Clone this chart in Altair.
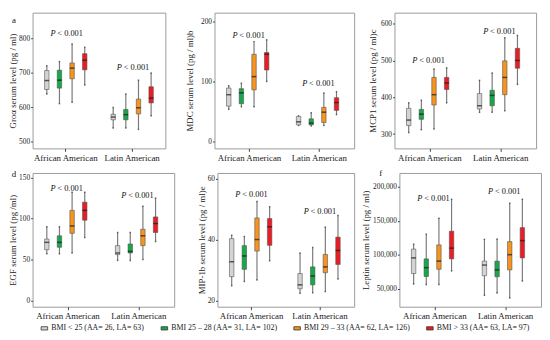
import altair as alt
import pandas as pd

groups = ["African American", "Latin American"]
bmi = ["BMI < 25 (AA= 26, LA= 63)", "BMI 25 – 28 (AA= 31, LA= 102)",
       "BMI 29 – 33 (AA= 62, LA= 126)", "BMI > 33 (AA= 63, LA= 97)"]
colors = ["#d4d4d4", "#16a84a", "#f7941d", "#ec1c24"]

# order: AA (4 BMI classes), then LA (4 BMI classes)
groa_lo = [638, 610, 614, 664, 539, 539, 535, 575]
groa_q1 = [651, 655, 682, 708, 563, 563, 580, 612]
groa_md = [677, 678, 713, 736, 571, 578, 598, 626]
groa_q3 = [706, 707, 728, 755, 579, 593, 623, 659]
groa_hi = [720, 732, 783, 774, 599, 638, 678, 699]

mdc_lo = [54, 58, 58, 100, 27, 26, 27, 45]
mdc_q1 = [59, 63, 86, 119, 28, 28, 32, 52]
mdc_md = [78, 81, 108, 145, 33, 31, 49, 65]
mdc_q3 = [89, 88, 145, 148, 42, 38, 57, 73]
mdc_hi = [93, 97, 166, 169, 43, 48, 81, 83]

mcp_lo = [304, 312, 314, 385, 359, 359, 363, 435]
mcp_q1 = [323, 340, 379, 421, 368, 377, 407, 479]
mcp_md = [338, 354, 407, 439, 377, 405, 454, 500]
mcp_q3 = [370, 367, 454, 454, 410, 419, 499, 533]
mcp_hi = [385, 392, 477, 480, 446, 466, 562, 568]

egf_lo = [57, 57, 58, 77, 49, 49, 50, 72]
egf_q1 = [62, 65, 82, 98, 56, 58, 67, 83]
egf_md = [71, 71, 91, 110, 58, 60, 79, 94]
egf_q3 = [75, 79, 110, 120, 67, 69, 87, 102]
egf_hi = [90, 90, 132, 132, 83, 83, 115, 125]

mip_lo = [24.8, 26.2, 26.7, 33.0, 22.3, 22.5, 22.9, 27.0]
mip_q1 = [27.8, 30.2, 36.2, 38.1, 23.8, 25.1, 29.1, 31.8]
mip_md = [32.7, 34.6, 40.0, 44.2, 25.1, 28.0, 31.0, 36.4]
mip_q3 = [40.3, 38.0, 47.1, 46.9, 28.8, 31.0, 35.1, 40.8]
mip_hi = [41.4, 41.0, 52.5, 50.8, 35.6, 37.4, 44.1, 47.9]

lep_lo = [57200, 56300, 56300, 76400, 40500, 43800, 36600, 61500]
lep_q1 = [72600, 68200, 78800, 94100, 69300, 67800, 77900, 95500]
lep_md = [95500, 81200, 90800, 109900, 85000, 77900, 100300, 121000]
lep_q3 = [108500, 94100, 114700, 134800, 90800, 90800, 119500, 140100]
lep_hi = [115700, 130500, 154000, 181800, 122800, 123300, 176000, 181800]

# p-value label heights (AA, LA)
p_groa = [816, 715]
p_mdc = [177, 97]
p_mcp = [500, 580]
p_egf = [137, 129]
p_mip = [55, 49.5]
p_lep = [183000, 194000]

SERIF = "Liberation Serif"


def make_df(lo, q1, md, q3, hi):
    return pd.DataFrame({
        "group": [groups[i // 4] for i in range(8)],
        "bmi": [bmi[i % 4] for i in range(8)],
        "lo": lo, "q1": q1, "med": md, "q3": q3, "hi": hi,
    })


def panel(df, pv, title, domain, ticks, fmt, ext, tpad, w, h, letter=None, ly=8):
    x = alt.X("group:N", scale=alt.Scale(domain=groups, paddingInner=0, paddingOuter=0),
              axis=alt.Axis(title=None, labelAngle=0, tickSize=3, labelPadding=2,
                            labelFontSize=9, domain=False))
    xo = alt.XOffset("bmi:N", scale=alt.Scale(domain=bmi, paddingInner=0.65, paddingOuter=0.95))
    ysc = alt.Scale(domain=domain, nice=False, zero=False)
    yax = alt.Axis(title=title, values=ticks, format=fmt, minExtent=ext, maxExtent=ext,
                   titlePadding=tpad, tickSize=2, labelPadding=1, labelFontSize=7.5,
                   titleFontSize=9)
    base = alt.Chart(df)
    whisk = base.mark_rule(color="#7a7a7a", strokeWidth=1.2).encode(
        x=x, xOffset=xo, y=alt.Y("lo:Q", scale=ysc, axis=yax), y2="hi:Q")
    caps = base.mark_tick(color="#333", size=1.5, thickness=1.5).encode(
        x=x, xOffset=xo, y="lo:Q")
    caps2 = base.mark_tick(color="#333", size=1.5, thickness=1.5).encode(
        x=x, xOffset=xo, y="hi:Q")
    box = base.mark_bar(stroke="#555", strokeWidth=0.6).encode(
        x=x, xOffset=xo, y="q1:Q", y2="q3:Q",
        color=alt.Color("bmi:N", scale=alt.Scale(domain=bmi, range=colors),
                        legend=alt.Legend(orient="none", legendX=8, legendY=317,
                                          direction="horizontal", title=None,
                                          symbolType="M-1,-0.5H1V0.5H-1Z", symbolSize=44,
                                          symbolStrokeColor="#333", symbolStrokeWidth=0.8,
                                          labelFont=SERIF, labelFontSize=8,
                                          labelColor="#222", labelLimit=300,
                                          columnPadding=15, labelOffset=3)))
    med = base.mark_tick(color="#1a1a1a", size=4.7, thickness=1.5).encode(
        x=x, xOffset=xo, y="med:Q")
    pdf = pd.DataFrame({"group": groups, "bmi": [bmi[2], bmi[2]], "y": pv})
    pt = alt.Chart(pdf)
    p1 = pt.mark_text(text="P", font=SERIF, fontSize=8.5, fontStyle="italic", align="left",
                      baseline="middle", dx=-22, color="#111").encode(x=x, xOffset=xo, y="y:Q")
    p2 = pt.mark_text(text="< 0.001", font=SERIF, fontSize=8.5, align="left",
                      baseline="middle", dx=-15, color="#111").encode(x=x, xOffset=xo, y="y:Q")
    layers = [whisk, caps, caps2, box, med, p1, p2]
    if letter:
        lt = alt.Chart(pd.DataFrame({"t": [letter]})).mark_text(
            font=SERIF, fontSize=9, align="center", baseline="middle", color="#111").encode(
            text="t:N", x=alt.value(-19), y=alt.value(ly))
        layers.append(lt)
    return alt.layer(*layers).properties(width=w, height=h)


pa = panel(make_df(groa_lo, groa_q1, groa_md, groa_q3, groa_hi), p_groa,
           "Groα serum level (pg / ml)", [480, 874], [500, 600, 700, 800], "d",
           13, 2, 135, 138, "a", 8)
pb = panel(make_df(mdc_lo, mdc_q1, mdc_md, mdc_q3, mdc_hi), p_mdc,
           "MDC serum level (pg / ml)b", [-11, 214], [0, 50, 100, 150, 200], "d",
           10, 10, 142, 138)
pc = panel(make_df(mcp_lo, mcp_q1, mcp_md, mcp_q3, mcp_hi), p_mcp,
           "MCP1 serum level (pg / ml)c", [261, 630], [300, 400, 500, 600], "d",
           14, 3, 144, 138)
pd_ = panel(make_df(egf_lo, egf_q1, egf_md, egf_q3, egf_hi), p_egf,
            "EGF serum level (pg /ml)", [-7.5, 155.6], [0, 50, 100, 150], "d",
            13, 2, 144, 136, "d", 1)
pe = panel(make_df(mip_lo, mip_q1, mip_md, mip_q3, mip_hi), p_mip,
           "MIP-1b serum level (pg / ml)e", [17.9, 61.9], [20, 30, 40, 50, 60], "d",
           10, 1, 139, 136)
pf = panel(make_df(lep_lo, lep_q1, lep_md, lep_q3, lep_hi), p_lep,
           "Leptin serum level (pg / ml)", [23700, 220500], [50000, 100000, 150000, 200000], ",d",
           28, 1, 144, 136, "f", 0)

row1 = alt.hconcat(alt.hconcat(pa, pb, spacing=19), pc, spacing=13)
row2 = alt.hconcat(alt.hconcat(pd_, pe, spacing=22), pf, spacing=6)

chart = alt.vconcat(row1, row2, spacing=5).properties(
    padding={"left": 0, "right": 0, "top": 1, "bottom": 0}
).configure_view(
    stroke="#9a9a9a", strokeWidth=1
).configure_axis(
    grid=False, domain=False, labelFont=SERIF, titleFont=SERIF,
    titleFontWeight="normal", labelColor="#222", titleColor="#222", tickColor="#444"
)

chart.save("out.html", embed_options={"renderer": "svg", "actions": False})
